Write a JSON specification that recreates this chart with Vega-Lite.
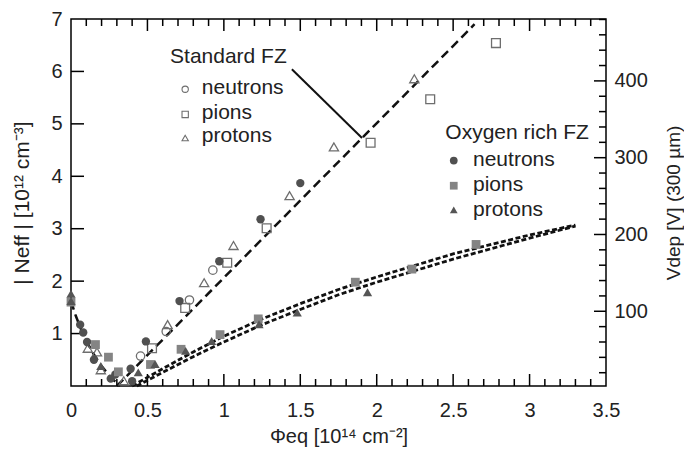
{
  "$schema": "https://vega.github.io/schema/vega-lite/v6.json",
  "width": 535,
  "height": 367,
  "autosize": "none",
  "padding": {"left": 71, "top": 19, "right": 78, "bottom": 67},
  "background": "white",
  "datasets": {
    "xmajor": [{"v": 0.5}, {"v": 1}, {"v": 1.5}, {"v": 2}, {"v": 2.5}, {"v": 3}],
    "xminor": [{"v": 0.1}, {"v": 0.2}, {"v": 0.3}, {"v": 0.4}, {"v": 0.6}, {"v": 0.7}, {"v": 0.8}, {"v": 0.9}, {"v": 1.1}, {"v": 1.2}, {"v": 1.3}, {"v": 1.4}, {"v": 1.6}, {"v": 1.7}, {"v": 1.8}, {"v": 1.9}, {"v": 2.1}, {"v": 2.2}, {"v": 2.3}, {"v": 2.4}, {"v": 2.6}, {"v": 2.7}, {"v": 2.8}, {"v": 2.9}, {"v": 3.1}, {"v": 3.2}, {"v": 3.3}, {"v": 3.4}],
    "ymajor": [{"v": 1}, {"v": 2}, {"v": 3}, {"v": 4}, {"v": 5}, {"v": 6}],
    "vmajor": [{"v": 100}, {"v": 200}, {"v": 300}, {"v": 400}],
    "vminor": [{"v": 20}, {"v": 40}, {"v": 60}, {"v": 80}, {"v": 120}, {"v": 140}, {"v": 160}, {"v": 180}, {"v": 220}, {"v": 240}, {"v": 260}, {"v": 280}, {"v": 320}, {"v": 340}, {"v": 360}, {"v": 380}, {"v": 420}, {"v": 440}, {"v": 460}, {"v": 480}],
    "std": [
      {"phi": 0.455, "neff": 0.57, "p": "neutrons"},
      {"phi": 0.623, "neff": 1.04, "p": "neutrons"},
      {"phi": 0.775, "neff": 1.64, "p": "neutrons"},
      {"phi": 0.928, "neff": 2.21, "p": "neutrons"},
      {"phi": 0.53, "neff": 0.72, "p": "pions"},
      {"phi": 0.747, "neff": 1.49, "p": "pions"},
      {"phi": 1.022, "neff": 2.35, "p": "pions"},
      {"phi": 1.28, "neff": 3.01, "p": "pions"},
      {"phi": 1.96, "neff": 4.64, "p": "pions"},
      {"phi": 2.35, "neff": 5.47, "p": "pions"},
      {"phi": 2.78, "neff": 6.54, "p": "pions"},
      {"phi": 0.11, "neff": 0.72, "p": "protons"},
      {"phi": 0.17, "neff": 0.65, "p": "protons"},
      {"phi": 0.195, "neff": 0.31, "p": "protons"},
      {"phi": 0.345, "neff": 0.1, "p": "protons"},
      {"phi": 0.632, "neff": 1.17, "p": "protons"},
      {"phi": 0.871, "neff": 1.97, "p": "protons"},
      {"phi": 1.063, "neff": 2.68, "p": "protons"},
      {"phi": 1.43, "neff": 3.63, "p": "protons"},
      {"phi": 1.72, "neff": 4.56, "p": "protons"},
      {"phi": 2.246, "neff": 5.86, "p": "protons"}
    ],
    "oxy": [
      {"phi": 0.06, "neff": 1.17, "p": "neutrons"},
      {"phi": 0.08, "neff": 1.02, "p": "neutrons"},
      {"phi": 0.105, "neff": 0.84, "p": "neutrons"},
      {"phi": 0.15, "neff": 0.5, "p": "neutrons"},
      {"phi": 0.26, "neff": 0.14, "p": "neutrons"},
      {"phi": 0.29, "neff": 0.22, "p": "neutrons"},
      {"phi": 0.39, "neff": 0.33, "p": "neutrons"},
      {"phi": 0.4, "neff": 0.09, "p": "neutrons"},
      {"phi": 0.49, "neff": 0.85, "p": "neutrons"},
      {"phi": 0.71, "neff": 1.62, "p": "neutrons"},
      {"phi": 0.97, "neff": 2.38, "p": "neutrons"},
      {"phi": 1.24, "neff": 3.18, "p": "neutrons"},
      {"phi": 1.5, "neff": 3.87, "p": "neutrons"},
      {"phi": 0.0, "neff": 1.6, "p": "pions"},
      {"phi": 0.16, "neff": 0.79, "p": "pions"},
      {"phi": 0.245, "neff": 0.55, "p": "pions"},
      {"phi": 0.31, "neff": 0.27, "p": "pions"},
      {"phi": 0.52, "neff": 0.41, "p": "pions"},
      {"phi": 0.72, "neff": 0.7, "p": "pions"},
      {"phi": 0.975, "neff": 0.98, "p": "pions"},
      {"phi": 1.225, "neff": 1.28, "p": "pions"},
      {"phi": 1.86, "neff": 1.98, "p": "pions"},
      {"phi": 2.23, "neff": 2.23, "p": "pions"},
      {"phi": 2.65, "neff": 2.7, "p": "pions"},
      {"phi": 0.0, "neff": 1.76, "p": "protons"},
      {"phi": 0.0, "neff": 1.62, "p": "protons"},
      {"phi": 0.195, "neff": 0.38, "p": "protons"},
      {"phi": 0.44, "neff": 0.26, "p": "protons"},
      {"phi": 0.55, "neff": 0.42, "p": "protons"},
      {"phi": 0.75, "neff": 0.67, "p": "protons"},
      {"phi": 0.92, "neff": 0.86, "p": "protons"},
      {"phi": 1.23, "neff": 1.18, "p": "protons"},
      {"phi": 1.48, "neff": 1.4, "p": "protons"},
      {"phi": 1.94, "neff": 1.79, "p": "protons"}
    ],
    "fits": [
      {"fit": "S", "phi": 0.3, "neff": 0.0},
      {"fit": "S", "phi": 2.64, "neff": 6.9},
      {"fit": "S0", "phi": 0.0, "neff": 1.62},
      {"fit": "S0", "phi": 0.03, "neff": 1.35},
      {"fit": "S0", "phi": 0.06, "neff": 1.12},
      {"fit": "S0", "phi": 0.1, "neff": 0.86},
      {"fit": "S0", "phi": 0.15, "neff": 0.6},
      {"fit": "S0", "phi": 0.2, "neff": 0.38},
      {"fit": "S0", "phi": 0.25, "neff": 0.2},
      {"fit": "S0", "phi": 0.3, "neff": 0.05},
      {"fit": "S0", "phi": 0.32, "neff": 0.0},
      {"fit": "O1", "phi": 0.4, "neff": 0.0},
      {"fit": "O1", "phi": 0.6, "neff": 0.33},
      {"fit": "O1", "phi": 0.8, "neff": 0.65},
      {"fit": "O1", "phi": 1.0, "neff": 0.95},
      {"fit": "O1", "phi": 1.25, "neff": 1.28},
      {"fit": "O1", "phi": 1.5, "neff": 1.57},
      {"fit": "O1", "phi": 1.75, "neff": 1.84},
      {"fit": "O1", "phi": 2.0, "neff": 2.08},
      {"fit": "O1", "phi": 2.5, "neff": 2.52},
      {"fit": "O1", "phi": 3.0, "neff": 2.88},
      {"fit": "O1", "phi": 3.3, "neff": 3.07},
      {"fit": "O2", "phi": 0.43, "neff": 0.0},
      {"fit": "O2", "phi": 0.6, "neff": 0.26},
      {"fit": "O2", "phi": 0.8, "neff": 0.56},
      {"fit": "O2", "phi": 1.0, "neff": 0.84},
      {"fit": "O2", "phi": 1.25, "neff": 1.17},
      {"fit": "O2", "phi": 1.5, "neff": 1.46},
      {"fit": "O2", "phi": 1.75, "neff": 1.74},
      {"fit": "O2", "phi": 2.0, "neff": 1.98},
      {"fit": "O2", "phi": 2.5, "neff": 2.42},
      {"fit": "O2", "phi": 3.0, "neff": 2.82},
      {"fit": "O2", "phi": 3.3, "neff": 3.05}
    ],
    "pointer": [{"phi": 1.445, "neff": 6.04, "phi2": 1.904, "neff2": 4.73}],
    "legS": [
      {"phi": 0.747, "neff": 5.66, "p": "neutrons"},
      {"phi": 0.747, "neff": 5.18, "p": "pions"},
      {"phi": 0.747, "neff": 4.73, "p": "protons"}
    ],
    "legO": [
      {"phi": 2.504, "neff": 4.3, "p": "neutrons"},
      {"phi": 2.504, "neff": 3.82, "p": "pions"},
      {"phi": 2.504, "neff": 3.36, "p": "protons"}
    ],
    "labels": [
      {"phi": 0.648, "neff": 6.28, "text": "Standard FZ"},
      {"phi": 0.856, "neff": 5.68, "text": "neutrons"},
      {"phi": 0.856, "neff": 5.2, "text": "pions"},
      {"phi": 0.856, "neff": 4.76, "text": "protons"},
      {"phi": 2.449, "neff": 4.82, "text": "Oxygen rich FZ"},
      {"phi": 2.63, "neff": 4.31, "text": "neutrons"},
      {"phi": 2.63, "neff": 3.84, "text": "pions"},
      {"phi": 2.63, "neff": 3.36, "text": "protons"}
    ]
  },
  "layer": [
    {
      "data": {"values": [{}]},
      "mark": {"type": "point", "opacity": 0},
      "encoding": {
        "x": {"datum": 0, "type": "quantitative", "scale": {"domain": [0, 3.5], "nice": false},
          "axis": {"orient": "bottom", "values": [0, 0.5, 1, 1.5, 2, 2.5, 3, 3.5], "format": "~g", "ticks": false, "labelPadding": 14, "title": "Φeq [10¹⁴ cm⁻²]", "titlePadding": 6}},
        "y": {"datum": 0, "type": "quantitative", "scale": {"domain": [0, 7], "nice": false},
          "axis": {"orient": "left", "values": [1, 2, 3, 4, 5, 6, 7], "ticks": false, "labelPadding": 9, "title": "| Neff |  [10¹² cm⁻³]", "titleFontSize": 21, "titlePadding": 18}}
      }
    },
    {
      "data": {"values": [{}]},
      "mark": {"type": "point", "opacity": 0},
      "encoding": {
        "y": {"datum": 100, "type": "quantitative", "scale": {"domain": [2.7, 480.6], "nice": false},
          "axis": {"orient": "right", "values": [100, 200, 300, 400], "ticks": false, "labelPadding": 8, "title": "Vdep [V] (300 µm)", "titleFontSize": 19, "titleAngle": 270, "titleBaseline": "top", "titlePadding": 17}}
      }
    },
    {
      "data": {"name": "xmajor"},
      "mark": {"type": "rule", "color": "black", "strokeWidth": 1.5},
      "encoding": {
        "x": {"field": "v", "type": "quantitative", "scale": {"domain": [0, 3.5], "nice": false}, "axis": null},
        "y": {"datum": 0, "type": "quantitative", "scale": {"domain": [0, 7], "nice": false}, "axis": null},
        "y2": {"datum": 0.229}
      }
    },
    {
      "data": {"name": "xmajor"},
      "mark": {"type": "rule", "color": "black", "strokeWidth": 1.5},
      "encoding": {
        "x": {"field": "v", "type": "quantitative", "scale": {"domain": [0, 3.5], "nice": false}, "axis": null},
        "y": {"datum": 7, "type": "quantitative", "scale": {"domain": [0, 7], "nice": false}, "axis": null},
        "y2": {"datum": 6.771}
      }
    },
    {
      "data": {"name": "xminor"},
      "mark": {"type": "rule", "color": "black", "strokeWidth": 1.5},
      "encoding": {
        "x": {"field": "v", "type": "quantitative", "scale": {"domain": [0, 3.5], "nice": false}, "axis": null},
        "y": {"datum": 0, "type": "quantitative", "scale": {"domain": [0, 7], "nice": false}, "axis": null},
        "y2": {"datum": 0.134}
      }
    },
    {
      "data": {"name": "xminor"},
      "mark": {"type": "rule", "color": "black", "strokeWidth": 1.5},
      "encoding": {
        "x": {"field": "v", "type": "quantitative", "scale": {"domain": [0, 3.5], "nice": false}, "axis": null},
        "y": {"datum": 7, "type": "quantitative", "scale": {"domain": [0, 7], "nice": false}, "axis": null},
        "y2": {"datum": 6.866}
      }
    },
    {
      "data": {"name": "ymajor"},
      "mark": {"type": "rule", "color": "black", "strokeWidth": 1.5},
      "encoding": {
        "x": {"datum": 0, "type": "quantitative", "scale": {"domain": [0, 3.5], "nice": false}, "axis": null},
        "x2": {"datum": 0.085},
        "y": {"field": "v", "type": "quantitative", "scale": {"domain": [0, 7], "nice": false}, "axis": null}
      }
    },
    {
      "data": {"name": "vmajor"},
      "mark": {"type": "rule", "color": "black", "strokeWidth": 1.5},
      "encoding": {
        "x": {"datum": 3.5, "type": "quantitative", "scale": {"domain": [0, 3.5], "nice": false}, "axis": null},
        "x2": {"datum": 3.4215},
        "y": {"field": "v", "type": "quantitative", "scale": {"domain": [2.7, 480.6], "nice": false}, "axis": null}
      }
    },
    {
      "data": {"name": "vminor"},
      "mark": {"type": "rule", "color": "black", "strokeWidth": 1.5},
      "encoding": {
        "x": {"datum": 3.5, "type": "quantitative", "scale": {"domain": [0, 3.5], "nice": false}, "axis": null},
        "x2": {"datum": 3.4542},
        "y": {"field": "v", "type": "quantitative", "scale": {"domain": [2.7, 480.6], "nice": false}, "axis": null}
      }
    },
    {
      "data": {"name": "fits"},
      "transform": [{"filter": "datum.fit == 'S' || datum.fit == 'S0'"}],
      "mark": {"type": "line", "color": "#111", "strokeWidth": 2.5, "strokeDash": [9, 5]},
      "encoding": {
        "x": {"field": "phi", "type": "quantitative", "scale": {"domain": [0, 3.5], "nice": false}, "axis": null},
        "y": {"field": "neff", "type": "quantitative", "scale": {"domain": [0, 7], "nice": false}, "axis": null},
        "detail": {"field": "fit"}
      }
    },
    {
      "data": {"name": "fits"},
      "transform": [{"filter": "datum.fit == 'O1' || datum.fit == 'O2'"}],
      "mark": {"type": "line", "color": "#111", "strokeWidth": 2.8, "strokeDash": [5, 2.5]},
      "encoding": {
        "x": {"field": "phi", "type": "quantitative", "scale": {"domain": [0, 3.5], "nice": false}, "axis": null},
        "y": {"field": "neff", "type": "quantitative", "scale": {"domain": [0, 7], "nice": false}, "axis": null},
        "detail": {"field": "fit"}
      }
    },
    {
      "data": {"name": "pointer"},
      "mark": {"type": "rule", "color": "#111", "strokeWidth": 2},
      "encoding": {
        "x": {"field": "phi", "type": "quantitative", "scale": {"domain": [0, 3.5], "nice": false}, "axis": null},
        "y": {"field": "neff", "type": "quantitative", "scale": {"domain": [0, 7], "nice": false}, "axis": null},
        "x2": {"field": "phi2"},
        "y2": {"field": "neff2"}
      }
    },
    {
      "data": {"name": "std"},
      "mark": {"type": "point", "filled": false, "stroke": "#6e6e6e", "strokeWidth": 1.3, "opacity": 1},
      "encoding": {
        "x": {"field": "phi", "type": "quantitative", "scale": {"domain": [0, 3.5], "nice": false}, "axis": null},
        "y": {"field": "neff", "type": "quantitative", "scale": {"domain": [0, 7], "nice": false}, "axis": null},
        "shape": {"field": "p", "type": "nominal", "scale": {"domain": ["neutrons", "pions", "protons"], "range": ["circle", "square", "triangle-up"]}, "legend": null},
        "size": {"field": "p", "type": "nominal", "scale": {"domain": ["neutrons", "pions", "protons"], "range": [70, 85, 80]}, "legend": null}
      }
    },
    {
      "data": {"name": "oxy"},
      "mark": {"type": "point", "filled": true, "opacity": 1},
      "encoding": {
        "x": {"field": "phi", "type": "quantitative", "scale": {"domain": [0, 3.5], "nice": false}, "axis": null},
        "y": {"field": "neff", "type": "quantitative", "scale": {"domain": [0, 7], "nice": false}, "axis": null},
        "shape": {"field": "p", "type": "nominal", "scale": {"domain": ["neutrons", "pions", "protons"], "range": ["circle", "square", "triangle-up"]}, "legend": null},
        "size": {"field": "p", "type": "nominal", "scale": {"domain": ["neutrons", "pions", "protons"], "range": [100, 110, 110]}, "legend": null},
        "color": {"field": "p", "type": "nominal", "scale": {"domain": ["neutrons", "pions", "protons"], "range": ["#505050", "#848484", "#555555"]}, "legend": null}
      }
    },
    {
      "data": {"name": "legS"},
      "mark": {"type": "point", "filled": false, "stroke": "#6e6e6e", "strokeWidth": 1.1, "opacity": 1},
      "encoding": {
        "x": {"field": "phi", "type": "quantitative", "scale": {"domain": [0, 3.5], "nice": false}, "axis": null},
        "y": {"field": "neff", "type": "quantitative", "scale": {"domain": [0, 7], "nice": false}, "axis": null},
        "shape": {"field": "p", "type": "nominal", "scale": {"domain": ["neutrons", "pions", "protons"], "range": ["circle", "square", "triangle-up"]}, "legend": null},
        "size": {"value": 40}
      }
    },
    {
      "data": {"name": "legO"},
      "mark": {"type": "point", "filled": true, "opacity": 1},
      "encoding": {
        "x": {"field": "phi", "type": "quantitative", "scale": {"domain": [0, 3.5], "nice": false}, "axis": null},
        "y": {"field": "neff", "type": "quantitative", "scale": {"domain": [0, 7], "nice": false}, "axis": null},
        "shape": {"field": "p", "type": "nominal", "scale": {"domain": ["neutrons", "pions", "protons"], "range": ["circle", "square", "triangle-up"]}, "legend": null},
        "size": {"value": 60},
        "color": {"field": "p", "type": "nominal", "scale": {"domain": ["neutrons", "pions", "protons"], "range": ["#505050", "#848484", "#555555"]}, "legend": null}
      }
    },
    {
      "data": {"name": "labels"},
      "mark": {"type": "text", "align": "left", "baseline": "middle", "font": "Liberation Sans", "fontSize": 21, "color": "#222"},
      "encoding": {
        "x": {"field": "phi", "type": "quantitative", "scale": {"domain": [0, 3.5], "nice": false}, "axis": null},
        "y": {"field": "neff", "type": "quantitative", "scale": {"domain": [0, 7], "nice": false}, "axis": null},
        "text": {"field": "text"}
      }
    }
  ],
  "resolve": {"scale": {"y": "independent"}, "axis": {"x": "independent", "y": "independent"}},
  "config": {
    "font": "Liberation Sans",
    "view": {"stroke": "#000", "strokeWidth": 1.5},
    "axis": {
      "grid": false, "domain": false,
      "labelFont": "Liberation Sans", "labelFontSize": 20, "labelColor": "#222",
      "titleFont": "Liberation Sans", "titleFontSize": 20, "titleFontWeight": "normal", "titleColor": "#222",
      "labelFlush": false, "labelOverlap": false
    }
  }
}
